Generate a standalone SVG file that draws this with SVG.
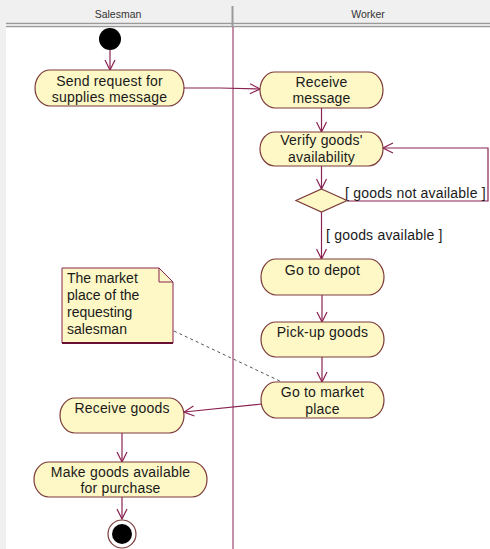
<svg xmlns="http://www.w3.org/2000/svg" width="490" height="549" viewBox="0 0 490 549">
  <style>
    .act { fill: #fdf8c6; stroke: #7c3a3a; stroke-width: 1.2; }
    .lbl { font-family: "Liberation Sans", Arial, sans-serif; font-size: 14px; letter-spacing: 0.2px; fill: #1a1a1a; text-anchor: middle; }
    .guard { font-family: "Liberation Sans", Arial, sans-serif; font-size: 14px; letter-spacing: 0.2px; fill: #1a1a1a; }
    .lane { font-family: "Liberation Sans", Arial, sans-serif; font-size: 10.5px; fill: #333; text-anchor: middle; }
    .flow { fill: none; stroke: #8a2252; stroke-width: 1.2; marker-end: url(#open); }
    .note { fill: #fdf8c6; stroke: #8a2252; stroke-width: 1; }
    .notetxt { font-family: "Liberation Sans", Arial, sans-serif; font-size: 14px; fill: #1a1a1a; }
  </style>
  <defs>
    <marker id="open" viewBox="0 0 12 12" refX="11" refY="6" markerWidth="12" markerHeight="12" markerUnits="userSpaceOnUse" orient="auto">
      <path d="M1,1 L11,6 L1,11" fill="none" stroke="#8a2252" stroke-width="1.2"/>
    </marker>
  </defs>

  <!-- canvas and swimlane header -->
  <rect x="0" y="0" width="490" height="549" fill="#ffffff"/>
  <rect x="0" y="0" width="490" height="24" fill="#f0f0f0"/>
  <rect x="0" y="24" width="6" height="525" fill="#f0f0f0"/>
  <line x1="6" y1="23.5" x2="490" y2="23.5" stroke="#9a9a9a" stroke-width="1.5"/>
  <line x1="6" y1="26.5" x2="490" y2="26.5" stroke="#9a9a9a" stroke-width="1.5"/>
  <line x1="232.5" y1="6" x2="232.5" y2="27" stroke="#9a9a9a" stroke-width="2"/>
  <line x1="233" y1="27" x2="233" y2="549" stroke="#8a2252" stroke-width="1"/>
  <text class="lane" x="118" y="18">Salesman</text>
  <text class="lane" x="368" y="18">Worker</text>

  <!-- connectors -->
  <g id="connectors">
    <line class="flow" x1="110" y1="50" x2="110" y2="70"/>
    <polyline class="flow" points="184,88 220,88 260,89"/>
    <line class="flow" x1="321.5" y1="108" x2="321.5" y2="132"/>
    <line class="flow" x1="321.5" y1="166" x2="321.5" y2="189"/>
    <polyline class="flow" points="347,201 488,201 488,148 383,148"/>
    <text class="guard" x="345" y="198">[ goods not available ]</text>
    <line class="flow" x1="321.5" y1="212" x2="321.5" y2="259"/>
    <text class="guard" x="326" y="240">[ goods available ]</text>
    <line class="flow" x1="322" y1="295" x2="322" y2="322"/>
    <line class="flow" x1="322" y1="357" x2="322" y2="382"/>
    <line class="flow" x1="262" y1="404" x2="184" y2="412"/>
    <line class="flow" x1="122" y1="433" x2="122" y2="462"/>
    <line class="flow" x1="122" y1="497" x2="122" y2="519"/>
    <line x1="174" y1="331" x2="284" y2="383" stroke="#555" stroke-width="1" stroke-dasharray="3,3"/>
  </g>

  <!-- nodes -->
  <g id="start">
    <circle cx="110" cy="39" r="11" fill="#000"/>
  </g>
  <g id="send-request">
    <rect class="act" x="35" y="70" width="149" height="36" rx="15" ry="18"/>
    <text class="lbl" x="109.5" y="86">Send request for</text>
    <text class="lbl" x="109.5" y="102">supplies message</text>
  </g>
  <g id="receive-message">
    <rect class="act" x="260" y="72" width="123" height="36" rx="15" ry="18"/>
    <text class="lbl" x="321.5" y="87">Receive</text>
    <text class="lbl" x="321.5" y="103">message</text>
  </g>
  <g id="verify">
    <rect class="act" x="260" y="132" width="123" height="34" rx="15" ry="17"/>
    <text class="lbl" x="321.5" y="145">Verify goods'</text>
    <text class="lbl" x="321.5" y="162">availability</text>
  </g>
  <g id="decision">
    <polygon points="321.5,189 347,200.5 321.5,212 296,200.5" fill="#fdf8c6" stroke="#7c3a3a" stroke-width="1.2"/>
  </g>
  <g id="go-to-depot">
    <rect class="act" x="261" y="259" width="123" height="36" rx="15" ry="18"/>
    <text class="lbl" x="322.5" y="275">Go to depot</text>
  </g>
  <g id="pick-up">
    <rect class="act" x="261" y="322" width="123" height="35" rx="15" ry="17.5"/>
    <text class="lbl" x="322.5" y="337">Pick-up goods</text>
  </g>
  <g id="go-to-market">
    <rect class="act" x="261" y="382" width="123" height="36" rx="15" ry="18"/>
    <text class="lbl" x="322.5" y="397">Go to market</text>
    <text class="lbl" x="322.5" y="414">place</text>
  </g>
  <g id="note">
    <path class="note" d="M62,268 L159,268 L173,282 L173,343 L62,343 Z"/>
    <path d="M159,268 L159,282 L173,282" fill="none" stroke="#8a2252" stroke-width="1"/>
    <line x1="62" y1="343" x2="173" y2="343" stroke="#6a1030" stroke-width="2"/>
    <text class="notetxt" x="67" y="283">The market</text>
    <text class="notetxt" x="67" y="300">place of the</text>
    <text class="notetxt" x="67" y="317">requesting</text>
    <text class="notetxt" x="67" y="334">salesman</text>
  </g>
  <g id="receive-goods">
    <rect class="act" x="60" y="398" width="124" height="35" rx="15" ry="17.5"/>
    <text class="lbl" x="122" y="413">Receive goods</text>
  </g>
  <g id="make-available">
    <rect class="act" x="34" y="462" width="173" height="35" rx="15" ry="17.5"/>
    <text class="lbl" x="120.5" y="477">Make goods available</text>
    <text class="lbl" x="120.5" y="493">for purchase</text>
  </g>
  <g id="end">
    <circle cx="122" cy="534" r="14" fill="#fff" stroke="#7c3a3a" stroke-width="1.2"/>
    <circle cx="122" cy="534" r="10" fill="#000"/>
  </g>
</svg>
